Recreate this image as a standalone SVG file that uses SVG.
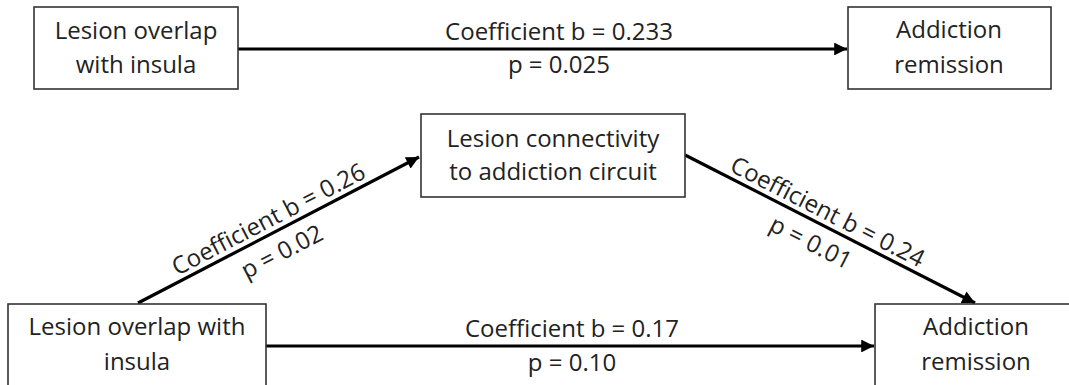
<svg xmlns="http://www.w3.org/2000/svg" width="1069" height="385" viewBox="0 0 1069 385">
<style>
.box{fill:#fff;stroke:#333;stroke-width:1.6}
.t{font-family:"Open Sans","Liberation Sans",sans-serif;font-size:24px;fill:#222;text-anchor:middle}
.c{stroke:#000;stroke-width:3.2;fill:none;marker-end:url(#ah)}
</style>
<defs>
<marker id="ah" viewBox="0 0 10 10" refX="10" refY="5" markerWidth="4" markerHeight="4" markerUnits="strokeWidth" orient="auto">
<path d="M0,0 L10,5 L0,10 z" fill="#000"/>
</marker>
</defs>
<rect width="1069" height="385" fill="#fff"/>
<g id="connectors">
<line class="c" x1="238" y1="49" x2="847" y2="49"/>
<text class="t" x="559" y="40">Coefficient b = 0.233</text>
<text class="t" x="559" y="73">p = 0.025</text>
<line class="c" x1="138" y1="303" x2="419" y2="157"/>
<g transform="translate(278.5,230) rotate(-27.46)">
<text class="t" x="-4" y="-6">Coefficient b = 0.26</text>
<text class="t" x="-7" y="29">p = 0.02</text>
</g>
<line class="c" x1="685" y1="155" x2="975" y2="303"/>
<g transform="translate(830,229) rotate(27.03)">
<text class="t" x="-10" y="-6">Coefficient b = 0.24</text>
<text class="t" x="-11" y="29">p = 0.01</text>
</g>
<line class="c" x1="266" y1="346" x2="874" y2="346"/>
<text class="t" x="572" y="337">Coefficient b = 0.17</text>
<text class="t" x="572" y="371">p = 0.10</text>
</g>
<g id="n1">
<rect class="box" x="34" y="7" width="204" height="82"/>
<text class="t" x="136" y="39">Lesion overlap</text>
<text class="t" x="136" y="73">with insula</text>
</g>
<g id="n2">
<rect class="box" x="848" y="7" width="203" height="82"/>
<text class="t" x="949" y="38">Addiction</text>
<text class="t" x="949" y="73">remission</text>
</g>
<g id="n3">
<rect class="box" x="421" y="114" width="264" height="83"/>
<text class="t" x="553" y="147">Lesion connectivity</text>
<text class="t" x="553" y="180">to addiction circuit</text>
</g>
<g id="n4">
<rect class="box" x="8" y="304" width="258" height="84"/>
<text class="t" x="137" y="335">Lesion overlap with</text>
<text class="t" x="137" y="370">insula</text>
</g>
<g id="n5">
<rect class="box" x="875" y="304" width="203" height="84"/>
<text class="t" x="976" y="335">Addiction</text>
<text class="t" x="976" y="370">remission</text>
</g>
</svg>
